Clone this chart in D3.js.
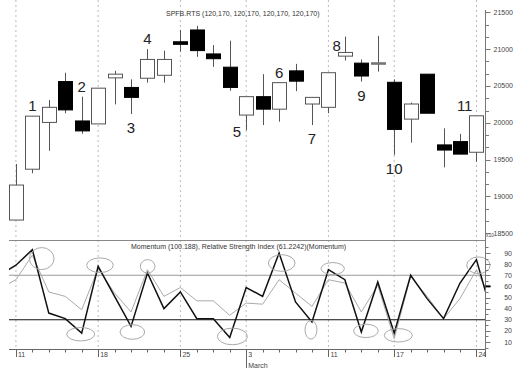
<!DOCTYPE html>
<html>
<head>
<meta charset="utf-8">
<script src="https://cdn.jsdelivr.net/npm/d3@7"></script>
<style>
  body { margin: 0; background: #fff; }
  svg { display: block; font-family: 'Liberation Sans', Arial, sans-serif; }
</style>
</head>
<body>
<div id="chart"></div>
<script>
// daily bars, 11 Feb .. 24 Mar
const open  = [18680, 19370, 20005, 20560, 20025, 19985, 20610, 20480, 20605, 20645, 21100, 21260, 20935, 20755, 20105, 20355, 20185, 20705, 20255, 20210, 20905, 20810, 20815, 20550, 20050, 20660, 19700, 19745, 19600]
const high  = [19440, 20090, 20310, 20680, 20355, 20470, 20705, 20590, 21000, 20980, 21260, 21315, 21055, 21115, 20355, 20660, 20545, 20800, 20345, 20680, 21170, 20860, 21180, 20590, 20275, 20660, 19925, 19850, 20095]
const low   = [18680, 19315, 19620, 20130, 19850, 19985, 20250, 20120, 20545, 20545, 20965, 20895, 20760, 20435, 19900, 19970, 20015, 20430, 19970, 20130, 20845, 20560, 20695, 19565, 19730, 20130, 19395, 19575, 19470]
const close = [19155, 20090, 20210, 20175, 19890, 20470, 20660, 20345, 20860, 20860, 21065, 20980, 20870, 20480, 20355, 20185, 20545, 20565, 20345, 20680, 20955, 20635, 20815, 19910, 20255, 20130, 19630, 19575, 20095]

// indicator values, bar -1 .. bar 29 (the ends are clipped)
const momentum = [70, 79, 93, 36, 31, 18, 78, 51, 24, 72, 40, 55, 31, 31, 14, 59, 51, 90, 46, 28, 75, 66, 19, 64, 18, 70, 49, 31, 63, 84, 32]
const rsi      = [58, 66, 88, 55, 51, 39, 76, 54, 37, 75, 51, 59, 47, 47, 34, 45, 44, 66, 54, 42, 66, 63, 37, 61, 13, 69, 51, 31, 49, 75, 45]

const weekBars   = [0, 5, 10, 14, 19, 23, 28]
const weekLabels = ['11', '18', '25', '3', '11', '17', '24']
const priceTicks = [21500, 21000, 20500, 20000, 19500, 19000, 18500]
const indTicks   = [90, 80, 70, 60, 50, 40, 30, 20, 10]

const waveBars   = [1, 4, 7, 8, 14, 16, 18, 20, 21, 23, 28]
const waveLabels = ['1', '2', '3', '4', '5', '6', '7', '8', '9', '10', '11']
const waveSide   = ['above', 'above', 'below', 'above', 'left5', 'above', 'below', 'left8', 'below', 'below', 'left11']

// ovals drawn on the indicator pane (bar position, level)
const ovalAt    = [1.57, 3.94, 5.11, 7.08, 8.01, 13.16, 16.16, 17.94, 19.26, 21.28, 23.25, 28.12]
const ovalLevel = [85, 17, 79, 19, 78, 15, 81, 21, 76, 20, 16, 79]

const W = 521, H = 371
const left = 9, right = 485.5

const svg = d3.select('#chart').append('svg')
  .attr('width', W).attr('height', H)

const x = d3.scaleLinear().domain([-0.42, 28.55]).range([left, right])
const yP = d3.scaleLinear().domain([18500, 21500]).range([233.3, 12.3])
const yI = d3.scaleLinear().domain([10, 90]).range([342, 253])

svg.append('clipPath').attr('id', 'clip')
  .append('rect').attr('x', left).attr('y', 0).attr('width', right - left).attr('height', 349)

// week grid
svg.append('g').selectAll('line').data(weekBars).enter().append('line')
  .attr('x1', d => x(d)).attr('x2', d => x(d))
  .attr('y1', 0).attr('y2', 349)
  .attr('stroke', '#bbb').attr('stroke-dasharray', '2,3')

// candles
const bars = d3.range(open.length)
const bw = 14
const cg = svg.append('g').attr('clip-path', 'url(#clip)')
cg.selectAll('.wick').data(bars).enter().append('line')
  .attr('x1', i => Math.round(x(i)) + 0.5).attr('x2', i => Math.round(x(i)) + 0.5)
  .attr('y1', i => yP(high[i])).attr('y2', i => yP(low[i]))
  .attr('stroke', '#555')
cg.selectAll('.body').data(bars).enter().append('rect')
  .attr('x', i => Math.round(x(i) - bw / 2) + 0.5)
  .attr('y', i => yP(Math.max(open[i], close[i])))
  .attr('width', bw)
  .attr('height', i => Math.max(1.5, Math.abs(yP(open[i]) - yP(close[i]))))
  .attr('fill', i => close[i] < open[i] ? '#000' : (close[i] === open[i] ? '#777' : '#fff'))
  .attr('stroke', i => close[i] < open[i] ? '#000' : (close[i] === open[i] ? '#777' : '#555'))

// wave counts
const waveOff = {
  above: i => [x(i), yP(high[i]) - 5, 'middle'],
  below: i => [x(i), yP(low[i]) + 19, 'middle'],
  left5: i => [x(i) - 5, yP(low[i]) + 7, 'end'],
  left8: i => [x(i) - 4, yP(high[i]) + 14, 'end'],
  left11: i => [x(i) - 4, yP(high[i]) - 4.5, 'end']
}
svg.append('g').selectAll('text').data(waveBars).enter().append('text')
  .each(function (b, k) {
    const p = waveOff[waveSide[k]](b)
    d3.select(this).attr('x', p[0]).attr('y', p[1]).attr('text-anchor', p[2])
  })
  .attr('font-size', 15).attr('fill', '#222')
  .text((b, k) => waveLabels[k])

svg.append('text').attr('x', 166).attr('y', 16)
  .attr('font-size', 7).attr('fill', '#333')
  .text('SPFB.RTS (120,170, 120,170, 120,170, 120,170)')

// indicator pane
svg.append('line').attr('x1', left).attr('x2', right).attr('y1', 240.5).attr('y2', 240.5).attr('stroke', '#888')
svg.append('line').attr('x1', left).attr('x2', right).attr('y1', yI(70)).attr('y2', yI(70)).attr('stroke', '#999')
svg.append('line').attr('x1', left).attr('x2', right).attr('y1', yI(30)).attr('y2', yI(30)).attr('stroke', '#111')

svg.append('text').attr('x', 131).attr('y', 248.5)
  .attr('font-size', 7).attr('fill', '#333')
  .text('Momentum (100.188), Relative Strength Index (61.2242)(Momentum)')

const ig = svg.append('g').attr('clip-path', 'url(#clip)')
const line = d3.line().x((d, i) => x(i - 1)).y(d => yI(d))
ig.append('path').datum(rsi).attr('d', line)
  .attr('fill', 'none').attr('stroke', '#aaa').attr('stroke-width', 1)
ig.append('path').datum(momentum).attr('d', line)
  .attr('fill', 'none').attr('stroke', '#111').attr('stroke-width', 1.5)

const ovalRx = [12.3, 14, 13.3, 12.3, 7.3, 15, 13.3, 6, 11.7, 12.3, 14, 11.7]
const ovalRy = [11, 6.7, 7.3, 7.3, 6.7, 8.3, 8.3, 9.3, 6, 6.7, 6.7, 8.3]
svg.append('g').selectAll('ellipse').data(ovalAt).enter().append('ellipse')
  .attr('cx', d => x(d)).attr('cy', (d, k) => yI(ovalLevel[k]))
  .attr('rx', (d, k) => ovalRx[k]).attr('ry', (d, k) => ovalRy[k])
  .attr('fill', 'none').attr('stroke', '#aaa')

// right axis
const ax = svg.append('g').attr('fill', '#444').attr('font-size', 7)
ax.append('line').attr('x1', right).attr('x2', right).attr('y1', 10).attr('y2', 357).attr('stroke', '#777')
const minorP = d3.range(18500, 21501, 500 / 3)
ax.selectAll('.mp').data(minorP).enter().append('line')
  .attr('x1', right).attr('x2', right + 3.5)
  .attr('y1', d => Math.round(yP(d)) + 0.5).attr('y2', d => Math.round(yP(d)) + 0.5)
  .attr('stroke', '#777')
ax.selectAll('.pt').data(priceTicks).enter().append('line')
  .attr('x1', right).attr('x2', right + 5)
  .attr('y1', d => Math.round(yP(d)) + 0.5).attr('y2', d => Math.round(yP(d)) + 0.5)
  .attr('stroke', '#777')
ax.selectAll('.pl').data(priceTicks).enter().append('text')
  .attr('x', 513).attr('y', d => yP(d) + 2.5).attr('text-anchor', 'end')
  .text(d => d)
ax.append('text').attr('x', 486).attr('y', 237).attr('font-size', 5).text('x10')

const minorI = d3.range(5, 96, 5)
ax.selectAll('.mi').data(minorI).enter().append('line')
  .attr('x1', right).attr('x2', d => right + (d % 10 === 0 ? 5 : 3))
  .attr('y1', d => Math.round(yI(d)) + 0.5).attr('y2', d => Math.round(yI(d)) + 0.5)
  .attr('stroke', '#777')
ax.selectAll('.il').data(indTicks).enter().append('text')
  .attr('x', 512).attr('y', d => yI(d) + 2.5).attr('text-anchor', 'end')
  .text(d => d)
ax.append('line').attr('x1', right).attr('x2', right + 5)
  .attr('y1', yI(60)).attr('y2', yI(60)).attr('stroke', '#000').attr('stroke-width', 2)

// time axis
const tx = svg.append('g').attr('fill', '#444').attr('font-size', 7)
tx.append('line').attr('x1', left).attr('x2', right).attr('y1', 349.5).attr('y2', 349.5).attr('stroke', '#666')
tx.selectAll('.dt').data(bars).enter().append('line')
  .attr('x1', i => Math.round(x(i)) + 0.5).attr('x2', i => Math.round(x(i)) + 0.5)
  .attr('y1', 349.5).attr('y2', 352.5).attr('stroke', '#666')
tx.selectAll('.wt').data(weekBars).enter().append('line')
  .attr('x1', i => Math.round(x(i)) + 0.5).attr('x2', i => Math.round(x(i)) + 0.5)
  .attr('y1', 349.5).attr('y2', (i, k) => weekLabels[k] === '3' ? 368 : 357).attr('stroke', '#666')
tx.selectAll('.wl').data(weekBars).enter().append('text')
  .attr('x', i => x(i) + 2).attr('y', 356.5)
  .text((i, k) => weekLabels[k])
tx.append('text').attr('x', x(14) + 2).attr('y', 367.5).text('March')
</script>
</body>
</html>
